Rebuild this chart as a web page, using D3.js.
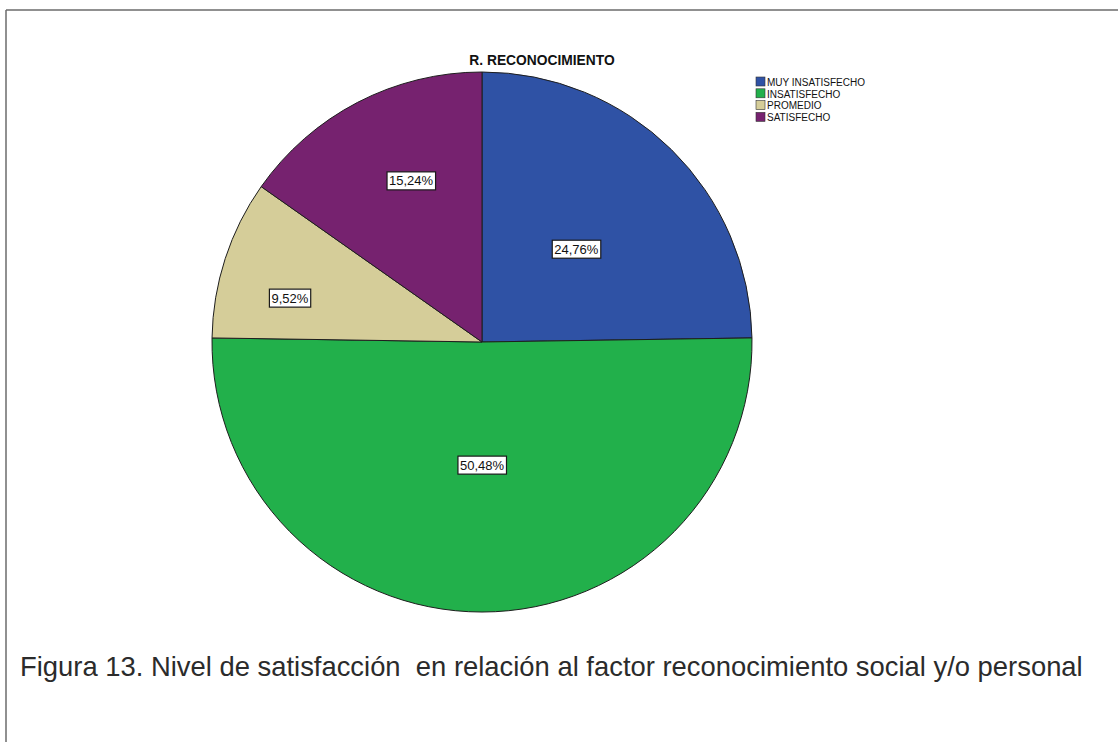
<!DOCTYPE html>
<html>
<head>
<meta charset="utf-8">
<script src="https://cdn.jsdelivr.net/npm/d3@7/dist/d3.min.js"></script>
<style>
  html, body { margin: 0; padding: 0; background: #ffffff; }
  svg { display: block; }
</style>
</head>
<body>
<script>
// Satisfaction levels for the "R. RECONOCIMIENTO" factor
const categories = ["MUY INSATISFECHO", "INSATISFECHO", "PROMEDIO", "SATISFECHO"];
const percentages = [24.76, 50.48, 9.52, 15.24];
const sliceColors = ["#2f52a5", "#22b04b", "#d5cd99", "#76226f"];
const chartTitle = "R. RECONOCIMIENTO";
const caption = "Figura 13. Nivel de satisfacción  en relación al factor reconocimiento social y/o personal";

const W = 1118, H = 742;
const cx = 482, cy = 342, R = 270;
// where each value tag sits: fraction of the radius, and fraction of the way through its slice
const labelRadius = [0.49, 0.456, 0.73, 0.652];
const labelSpan = [0.51, 0.5, 0.35, 0.567];

const svg = d3.select("body").append("svg")
  .attr("width", W).attr("height", H);

// frame lines (top and left)
svg.append("line").attr("x1", 6).attr("y1", 10).attr("x2", W).attr("y2", 10)
  .attr("stroke", "#6b6b6b").attr("stroke-width", 1.5);
svg.append("line").attr("x1", 6).attr("y1", 10).attr("x2", 6).attr("y2", H)
  .attr("stroke", "#6b6b6b").attr("stroke-width", 1.5);

const data = categories.map((c, i) => ({
  cat: c, value: percentages[i], color: sliceColors[i], lr: labelRadius[i], ls: labelSpan[i]
}));

const pie = d3.pie().value(d => d.value).sort(null);
const arc = d3.arc().innerRadius(0).outerRadius(R);
const arcs = pie(data);

const g = svg.append("g").attr("transform", `translate(${cx},${cy})`);

g.selectAll("path.slice").data(arcs).enter().append("path")
  .attr("class", "slice")
  .attr("d", arc)
  .attr("fill", d => d.data.color)
  .attr("stroke", "#1e1e1e")
  .attr("stroke-width", 1);

// value labels in boxed white tags
const fmt = v => v.toFixed(2).replace(".", ",") + "%";
const labels = g.selectAll("g.lbl").data(arcs).enter().append("g").attr("class", "lbl")
  .attr("transform", d => {
    const a = d.startAngle + (d.endAngle - d.startAngle) * d.data.ls;
    const r = R * d.data.lr;
    return `translate(${r * Math.sin(a)},${-r * Math.cos(a)})`;
  });
labels.each(function(d) {
  const sel = d3.select(this);
  const t = sel.append("text")
    .attr("text-anchor", "middle")
    .attr("dominant-baseline", "central")
    .attr("font-family", "Arial, 'Liberation Sans', sans-serif")
    .attr("font-size", 13)
    .attr("fill", "#111")
    .text(fmt(d.data.value));
  const bb = t.node().getBBox();
  sel.insert("rect", "text")
    .attr("x", bb.x - 2).attr("y", bb.y - 1.5)
    .attr("width", bb.width + 4).attr("height", bb.height + 3)
    .attr("fill", "#ffffff")
    .attr("stroke", "#1a1a1a").attr("stroke-width", 1.2);
});

// title
svg.append("text")
  .attr("x", 542).attr("y", 65)
  .attr("text-anchor", "middle")
  .attr("font-family", "Arial, 'Liberation Sans', sans-serif")
  .attr("font-weight", "bold")
  .attr("font-size", 13.8)
  .attr("fill", "#111")
  .text(chartTitle);

// legend
const legend = svg.append("g").attr("transform", "translate(756,77)");
const rowH = 11.8;
const items = legend.selectAll("g").data(data).enter().append("g")
  .attr("transform", (d, i) => `translate(0,${i * rowH})`);
items.append("rect")
  .attr("width", 9).attr("height", 9)
  .attr("fill", d => d.color)
  .attr("stroke", "#333").attr("stroke-width", 0.6);
items.append("text")
  .attr("x", 11).attr("y", 8.8)
  .attr("font-family", "Arial, 'Liberation Sans', sans-serif")
  .attr("font-size", 10)
  .attr("fill", "#111")
  .text(d => d.cat);

// figure caption
svg.append("text")
  .attr("x", 20).attr("y", 676)
  .attr("font-family", "Arial, 'Liberation Sans', sans-serif")
  .attr("font-size", 27.4)
  .attr("fill", "#2b2b2b")
  .style("white-space", "pre")
  .text(caption);
</script>
</body>
</html>
